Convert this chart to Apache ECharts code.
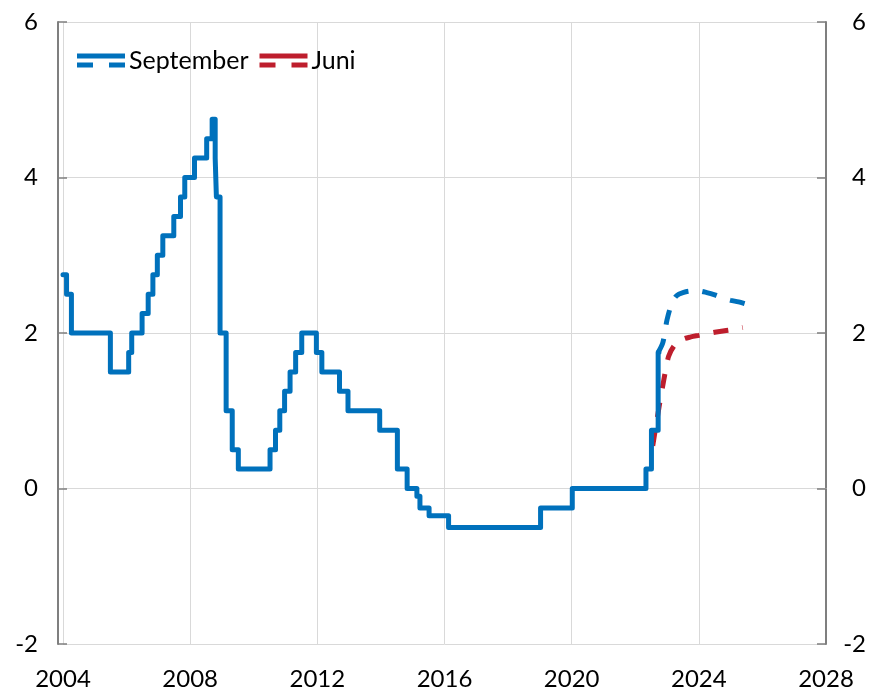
<!DOCTYPE html>
<html>
<head>
<meta charset="utf-8">
<script src="https://cdn.jsdelivr.net/npm/echarts@6/dist/echarts.min.js"></script>
<style>
  html, body { margin: 0; padding: 0; background: #ffffff; }
  #chart { width: 869px; height: 691px; }
</style>
</head>
<body>
<div id="chart"></div>
<script>
// Repo rate history: effective dates and rates (per cent)
const histDates = [
  '2004-01-01','2004-02-11','2004-04-07','2005-06-29','2006-01-25','2006-03-01',
  '2006-06-28','2006-09-06','2006-10-30','2006-12-20','2007-02-21','2007-06-27',
  '2007-09-12','2007-10-31','2008-02-20','2008-07-09','2008-09-10','2008-10-15',
  '2008-10-29','2008-12-10','2009-02-18','2009-04-29','2009-07-08','2010-07-07',
  '2010-09-08','2010-10-27','2010-12-21','2011-02-22','2011-04-27','2011-07-06',
  '2011-12-21','2012-02-22','2012-09-12','2012-12-19','2013-12-18','2014-07-09',
  '2014-10-29','2015-02-18','2015-03-25','2015-07-08','2016-02-17','2019-01-09',
  '2020-01-08','2022-05-04','2022-07-06','2022-09-21','2022-09-30'
];
const histRates = [
  2.75, 2.50, 2.00, 1.50, 1.75, 2.00,
  2.25, 2.50, 2.75, 3.00, 3.25, 3.50,
  3.75, 4.00, 4.25, 4.50, 4.75, 4.25,
  3.75, 2.00, 1.00, 0.50, 0.25, 0.50,
  0.75, 1.00, 1.25, 1.50, 1.75, 2.00,
  1.75, 1.50, 1.25, 1.00, 0.75, 0.25,
  0.00, -0.10, -0.25, -0.35, -0.50, -0.25,
  0.00, 0.25, 0.75, 1.75, 1.75
];

// September forecast (decimal years, per cent)
const septYears = [2022.72, 2022.87, 2023.0, 2023.15, 2023.3, 2023.5, 2023.75, 2024.0, 2024.25, 2024.5, 2024.75, 2025.0, 2025.25, 2025.5, 2025.67];
const septRates = [1.75, 1.88, 2.17, 2.38, 2.48, 2.52, 2.54, 2.54, 2.52, 2.49, 2.45, 2.42, 2.40, 2.37, 2.35];

// June forecast (decimal years, per cent)
const juneYears = [2022.55, 2022.75, 2022.9, 2023.05, 2023.25, 2023.5, 2023.75, 2024.0, 2024.5, 2025.0, 2025.38];
const juneRates = [0.55, 1.05, 1.40, 1.70, 1.85, 1.92, 1.95, 1.97, 2.01, 2.04, 2.07];

// Axis ticks
const xTicks = [2004, 2008, 2012, 2016, 2020, 2024, 2028];
const yTicks = [-2, 0, 2, 4, 6];

function toDecimalYear(s) {
  const p = s.split('-').map(Number);
  const start = Date.UTC(p[0], 0, 1);
  const end = Date.UTC(p[0] + 1, 0, 1);
  const d = Date.UTC(p[0], p[1] - 1, p[2]);
  return p[0] + (d - start) / (end - start);
}

const histData = histDates.map((d, i) => [toDecimalYear(d), histRates[i]]);
const septData = septYears.map((y, i) => [y, septRates[i]]);
const juneData = juneYears.map((y, i) => [y, juneRates[i]]);

const BLUE = '#0071bc';
const RED = '#be1e2d';
const FONT = 'Lato';
const AXIS_DARK = '#7f7f7f';
const GRID = '#d9d9d9';

const legendIcon = 'path://M0,0H48V5H0Z M0,9H16V14H0Z M32,9H48V14H32Z';

const chart = echarts.init(document.getElementById('chart'), null, { renderer: 'canvas' });

chart.setOption({
  animation: false,
  backgroundColor: '#ffffff',
  textStyle: { fontFamily: FONT },
  grid: { left: 63, right: 43, top: 22, bottom: 46, containLabel: false },
  legend: {
    data: ['September', 'Juni'],
    left: 77,
    top: 48,
    padding: 0,
    icon: legendIcon,
    itemWidth: 48,
    itemHeight: 14,
    itemGap: 11,
    symbolKeepAspect: true,
    itemStyle: { borderWidth: 0 },
    textStyle: { fontFamily: FONT, fontSize: 25, color: '#000000', padding: [0, 0, 0, -1] }
  },
  xAxis: {
    type: 'value',
    min: xTicks[0],
    max: xTicks[xTicks.length - 1],
    interval: 4,
    axisLine: { show: true, lineStyle: { color: GRID, width: 1 } },
    axisTick: { show: false },
    splitLine: { show: true, lineStyle: { color: GRID, width: 1 } },
    axisLabel: {
      fontFamily: FONT, fontSize: 24, color: '#000000', margin: 23,
      formatter: v => String(v)
    }
  },
  yAxis: [
    {
      type: 'value',
      position: 'left',
      offset: 5,
      min: yTicks[0],
      max: yTicks[yTicks.length - 1],
      interval: 2,
      axisLine: { show: true, lineStyle: { color: AXIS_DARK, width: 2 } },
      axisTick: { show: true, inside: true, length: 9, lineStyle: { color: AXIS_DARK, width: 1.5 } },
      splitLine: { show: true, lineStyle: { color: GRID, width: 1 } },
      axisLabel: { fontFamily: FONT, fontSize: 24, color: '#000000', margin: 20 }
    },
    {
      type: 'value',
      position: 'right',
      min: yTicks[0],
      max: yTicks[yTicks.length - 1],
      interval: 2,
      axisLine: { show: true, lineStyle: { color: AXIS_DARK, width: 2 } },
      axisTick: { show: true, inside: true, length: 9, lineStyle: { color: AXIS_DARK, width: 1.5 } },
      splitLine: { show: false },
      axisLabel: { fontFamily: FONT, fontSize: 24, color: '#000000', margin: 40, align: 'right' }
    }
  ],
  series: [
    {
      name: 'Juni',
      type: 'line',
      data: juneData,
      showSymbol: false,
      smooth: 0.3,
      itemStyle: { color: RED },
      lineStyle: { color: RED, width: 5, type: [15, 14], cap: 'butt' },
      z: 2
    },
    {
      name: 'September',
      type: 'line',
      data: septData,
      showSymbol: false,
      smooth: 0.3,
      itemStyle: { color: BLUE },
      lineStyle: { color: BLUE, width: 5, type: [15, 14], cap: 'butt' },
      z: 3
    },
    {
      name: 'September',
      type: 'line',
      data: histData,
      showSymbol: false,
      step: 'end',
      itemStyle: { color: BLUE },
      lineStyle: { color: BLUE, width: 5, join: 'round', cap: 'round' },
      z: 4
    }
  ]
});
</script>
</body>
</html>
